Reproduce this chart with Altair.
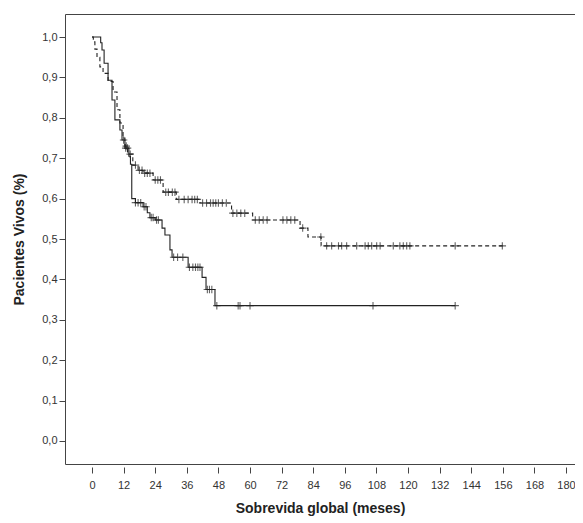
import altair as alt
import pandas as pd

# ---- Data (months, survival) ----
# Solid curve: step times and survival after each step (last = end of follow-up)
solid_t = [0, 3.3, 3.8, 4.6, 6.1, 7.6, 8.7, 10.6, 11.4, 12.5, 14.0, 14.6, 15.1, 16.5, 19.4, 21.0, 22.0, 24.0,
           26.6, 27.7, 29.6, 30.4, 36.5, 41.8, 43.3, 46.7, 138.0]
solid_s = [1.0, 0.986, 0.968, 0.935, 0.893, 0.844, 0.795, 0.77, 0.745, 0.725, 0.705, 0.685, 0.60, 0.59, 0.58,
           0.565, 0.553, 0.547, 0.527, 0.51, 0.473, 0.455, 0.43, 0.405, 0.375, 0.335, 0.335]
solid_cens = [12.0, 12.8, 13.5, 16.5, 17.5, 18.5, 19.8, 20.5, 22.5, 23.2, 24.5, 25.2, 31.0, 32.5, 34.5,
              37.0, 38.3, 39.3, 40.2, 41.0, 43.8, 44.6, 45.5, 47.4, 55.5, 56.2, 60.0, 106.7, 137.9]

# Dashed curve
dash_t = [0, 0.5, 1.1, 1.9, 3.0, 4.2, 6.1, 8.0, 9.5, 10.6, 11.8, 12.5, 13.5, 15.5, 17.5, 19.4, 23.2, 27.0,
          32.0, 41.0, 53.0, 61.0, 79.0, 82.0, 87.0, 156.0]
dash_s = [1.0, 0.988, 0.97, 0.95, 0.926, 0.91, 0.89, 0.864, 0.82, 0.787, 0.75, 0.73, 0.71, 0.683, 0.67,
          0.663, 0.646, 0.616, 0.598, 0.589, 0.564, 0.547, 0.527, 0.505, 0.483, 0.483]
dash_cens = [13.0, 14.5, 16.5, 18.0, 19.0, 20.0, 21.0, 22.0, 24.0, 25.0, 26.0, 28.0, 29.0, 30.5, 31.5, 33.0,
             35.0, 36.5, 38.0, 39.0, 40.0, 42.0, 43.5, 45.0, 46.0, 47.0, 48.0, 49.5, 51.0, 53.5, 55.0, 56.5,
             58.0, 62.0, 63.5, 65.0, 66.5, 72.5, 74.0, 75.5, 77.0, 80.0, 86.9, 89.1, 91.0, 93.6, 94.8, 96.7,
             100.5, 103.7, 104.9, 106.2, 108.1, 109.4, 114.4, 116.9, 118.2, 119.5, 120.7, 137.9, 155.8]

x_ticks = list(range(0, 181, 12))
y_ticks = [0.0, 0.1, 0.2, 0.3, 0.4, 0.5, 0.6, 0.7, 0.8, 0.9, 1.0]


def surv_at(times, survs, t):
    s = survs[0]
    for ti, si in zip(times, survs):
        if ti <= t:
            s = si
    return s


solid_df = pd.DataFrame({"t": solid_t, "s": solid_s})
dash_df = pd.DataFrame({"t": dash_t, "s": dash_s})
solid_c = pd.DataFrame({"t": solid_cens, "s": [surv_at(solid_t, solid_s, c) for c in solid_cens]})
dash_c = pd.DataFrame({"t": dash_cens, "s": [surv_at(dash_t, dash_s, c) for c in dash_cens]})

FONT = "Liberation Sans"
xs = alt.Scale(domain=[-10.25, 183.4], nice=False, zero=False)
ys = alt.Scale(domain=[-0.057, 1.057], nice=False, zero=False)

x_axis = alt.Axis(values=x_ticks, title="Sobrevida global (meses)", grid=False, domain=False,
                  offset=3, tickSize=6, tickColor="#444", labelPadding=6, labelFontSize=11,
                  labelColor="#333", labelFont=FONT, titleFont=FONT, titleFontSize=14,
                  titleFontWeight="bold", titleColor="#222", titlePadding=11, labelFlush=False,
                  labelOverlap=False)
y_axis = alt.Axis(values=y_ticks, title="Pacientes Vivos (%)", grid=False, domain=False,
                  tickSize=6, tickColor="#444", labelPadding=2, labelFontSize=11,
                  labelColor="#333", labelFont=FONT, titleFont=FONT, titleFontSize=14,
                  titleFontWeight="bold", titleColor="#222", titlePadding=15, labelOverlap=False,
                  labelExpr="replace(format(datum.value, '.1f'), '.', ',')")

X = alt.X("t:Q", scale=xs, axis=x_axis)
Y = alt.Y("s:Q", scale=ys, axis=y_axis)

plus = "M-1,0L1,0M0,-1L0,1"

solid_line = alt.Chart(solid_df).mark_line(interpolate="step-after", color="#222",
                                           strokeWidth=1.1).encode(x=X, y=Y)
dash_line = alt.Chart(dash_df).mark_line(interpolate="step-after", color="#222", strokeWidth=1.1,
                                         strokeDash=[4, 3]).encode(x=X, y=Y)
solid_pts = alt.Chart(solid_c).mark_point(shape=plus, size=56, color="#222", strokeWidth=1.1,
                                          filled=False).encode(x=X, y=Y)
dash_pts = alt.Chart(dash_c).mark_point(shape=plus, size=56, color="#222", strokeWidth=1.1,
                                        filled=False).encode(x=X, y=Y)

chart = alt.layer(solid_line, dash_line, solid_pts, dash_pts).properties(
    width=510, height=450,
    autosize=alt.AutoSizeParams(type="none"),
    padding={"left": 57, "top": 6, "right": 0, "bottom": 56},
).configure_view(stroke="#444", strokeWidth=1)

chart.save("out.html", embed_options={"renderer": "svg", "actions": False})
